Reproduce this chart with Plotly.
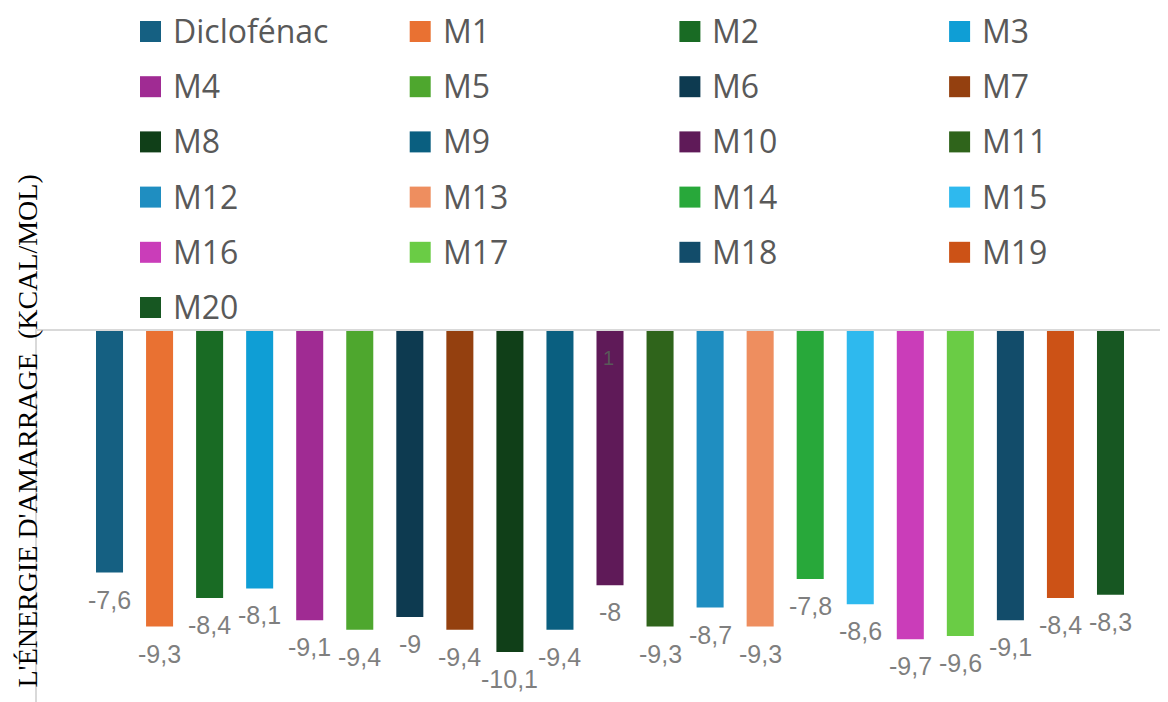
import plotly.graph_objects as go

# ---- data ----
series_names = ["Diclofénac", "M1", "M2", "M3", "M4", "M5", "M6", "M7", "M8", "M9",
                "M10", "M11", "M12", "M13", "M14", "M15", "M16", "M17", "M18", "M19", "M20"]
energies = [-7.6, -9.3, -8.4, -8.1, -9.1, -9.4, -9.0, -9.4, -10.1, -9.4,
            -8.0, -9.3, -8.7, -9.3, -7.8, -8.6, -9.7, -9.6, -9.1, -8.4, -8.3]
colors = ["#156082", "#E97132", "#196B24", "#0F9ED5", "#A02B93", "#4EA72E",
          "#0D3A50", "#94400F", "#103F18", "#0A5F80", "#5F1A58", "#2F641B",
          "#1F8EC1", "#EE8E5F", "#28A83A", "#2EB9EE", "#CA3DB9", "#6ACC45",
          "#124C6A", "#CC5216", "#175722"]
y_title = "L'ÉNERGIE D'AMARRAGE\u00a0\u00a0(KCAL/MOL)"
stray_label = "1"          # stray label shown at the top of the M10 bar
stray_label_series = "M10"

# ---- layout constants (page has an 8px body margin) ----
OFF = 8
W, H = 1168 - OFF, 702 - OFF
ML, MR, MT, MB = 37 - OFF, 0, 331 - OFF, 0
PW, PH = W - ML - MR, H - MT - MB


def px2x(px):
    return (px - OFF - ML) / PW


def px2y(py):
    return (H - MB - (py - OFF)) / PH


fig = go.Figure()
for i, (n, v, c) in enumerate(zip(series_names, energies, colors)):
    fig.add_trace(go.Bar(x=[i], y=[v], name=n, marker=dict(color=c, line=dict(width=0)),
                         width=0.54, showlegend=False, hoverinfo="name+y"))

annotations = []
# data labels
for i, v in enumerate(energies):
    txt = f"{v:g}".replace(".", ",")
    annotations.append(dict(x=i, y=v, xref="x", yref="y", text=txt, showarrow=False,
                            yanchor="top", xanchor="center", yshift=-11,
                            font=dict(family="Liberation Sans, Arial", size=25, color="#7f7f7f")))
# stray label
si = series_names.index(stray_label_series)
annotations.append(dict(x=si, y=0, xref="x", yref="y", text=stray_label, showarrow=False,
                        yanchor="top", xanchor="center", yshift=-14, xshift=-2,
                        font=dict(family="Liberation Sans, Arial", size=20, color="#595959")))
# y-axis title
annotations.append(dict(x=px2x(26.5), y=px2y(431), xref="paper", yref="paper", text=y_title,
                        showarrow=False, textangle=-90, xanchor="center", yanchor="middle",
                        font=dict(family="Liberation Serif, Times New Roman", size=28, color="#000000")))

# manual legend (4 columns)
shapes = []
ncol = 4
col_left0, col_step = 140, 269.7
row_center0, row_step = 31.5, 55.2
sq = 21
for k, (n, c) in enumerate(zip(series_names, colors)):
    r, cc = divmod(k, ncol)
    left = col_left0 + col_step * cc
    cy = row_center0 + row_step * r
    shapes.append(dict(type="rect", xref="paper", yref="paper",
                       x0=px2x(left), x1=px2x(left + sq),
                       y0=px2y(cy + sq / 2), y1=px2y(cy - sq / 2),
                       fillcolor=c, line=dict(width=0)))
    annotations.append(dict(x=px2x(left + 31), y=px2y(cy), xref="paper", yref="paper",
                            text=n, showarrow=False, xanchor="left", yanchor="middle", yshift=1,
                            font=dict(family="Open Sans, Noto Sans", size=32, color="#595959")))

fig.update_layout(
    width=W, height=H,
    margin=dict(l=ML, r=MR, t=MT, b=MB, pad=0),
    paper_bgcolor="white", plot_bgcolor="white",
    barmode="overlay",
    showlegend=False,
    annotations=annotations,
    shapes=shapes,
    xaxis=dict(range=[-1.449, 21.149], showticklabels=False, ticks="", showgrid=False,
               zeroline=False, showline=True, side="top", linecolor="#d9d9d9", linewidth=1.5,
               fixedrange=True),
    yaxis=dict(range=[-(702 - 331.5) / 31.74, 0], showticklabels=False, ticks="", showgrid=False,
               zeroline=False, showline=True, linecolor="#d9d9d9", linewidth=1.5,
               fixedrange=True),
)

fig.write_html("out.html")
